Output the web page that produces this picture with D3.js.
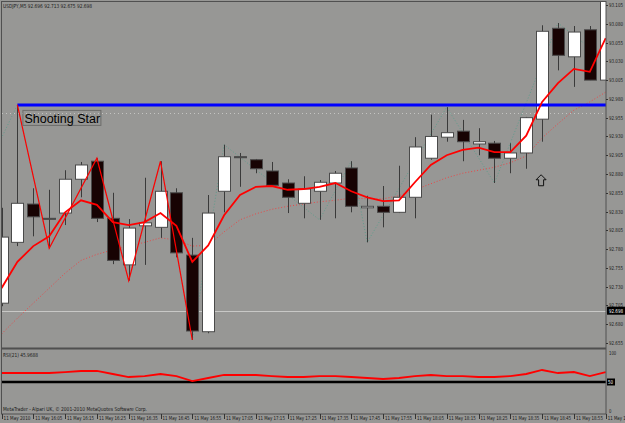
<!DOCTYPE html>
<html>
<head>
<meta charset="utf-8">
<script src="https://cdn.jsdelivr.net/npm/d3@7"></script>
<style>
  body { margin: 0; background: #979795; }
  svg { display: block; }
  text { font-family: "Liberation Sans Narrow", "DejaVu Sans Condensed", "Liberation Sans", sans-serif; }
</style>
</head>
<body>
<div id="chart"></div>
<script>
// USDJPY M5 candles, bar 0 = 15:55
const opens = [92.708, 92.789, 92.840, 92.821, 92.828, 92.873, 92.897, 92.821, 92.759, 92.811, 92.809, 92.855, 92.772, 92.670, 92.857, 92.903, 92.899, 92.884, 92.868, 92.841, 92.857, 92.868, 92.888, 92.835, 92.837, 92.829, 92.849, 92.901, 92.929, 92.937, 92.920, 92.921, 92.901, 92.908, 92.953, 93.074, 93.036, 93.072, 93.005];
const highs = [92.835, 92.972, 92.861, 92.859, 92.885, 92.896, 92.901, 92.855, 92.820, 92.875, 92.897, 92.861, 92.795, 92.852, 92.919, 92.908, 92.900, 92.896, 92.873, 92.877, 92.872, 92.884, 92.897, 92.851, 92.864, 92.891, 92.929, 92.959, 92.969, 92.952, 92.941, 92.924, 92.921, 92.956, 93.078, 93.081, 93.077, 93.077, 93.130];
const lows = [92.704, 92.784, 92.797, 92.781, 92.812, 92.849, 92.816, 92.760, 92.738, 92.759, 92.795, 92.769, 92.659, 92.668, 92.829, 92.863, 92.881, 92.863, 92.828, 92.821, 92.819, 92.821, 92.829, 92.789, 92.809, 92.828, 92.821, 92.899, 92.923, 92.897, 92.905, 92.868, 92.881, 92.887, 92.923, 93.018, 92.996, 93.005, 92.990];
const closes = [92.796, 92.841, 92.823, 92.820, 92.873, 92.892, 92.821, 92.765, 92.808, 92.815, 92.857, 92.775, 92.671, 92.828, 92.903, 92.902, 92.887, 92.865, 92.849, 92.860, 92.869, 92.881, 92.837, 92.837, 92.829, 92.849, 92.916, 92.930, 92.935, 92.923, 92.923, 92.901, 92.908, 92.955, 93.070, 93.038, 93.069, 93.005, 93.120];

const maFast = [92.728, 92.763, 92.784, 92.797, 92.829, 92.845, 92.839, 92.816, 92.812, 92.816, 92.828, 92.811, 92.763, 92.785, 92.825, 92.852, 92.863, 92.864, 92.859, 92.860, 92.863, 92.868, 92.857, 92.849, 92.844, 92.845, 92.869, 92.892, 92.905, 92.912, 92.915, 92.909, 92.909, 92.931, 92.976, 93.001, 93.020, 93.016, 93.061];
const maSlow = [92.667, 92.688, 92.708, 92.728, 92.748, 92.765, 92.773, 92.779, 92.784, 92.789, 92.795, 92.792, 92.784, 92.785, 92.803, 92.819, 92.827, 92.833, 92.837, 92.840, 92.843, 92.845, 92.848, 92.847, 92.847, 92.851, 92.859, 92.867, 92.875, 92.881, 92.885, 92.889, 92.895, 92.904, 92.928, 92.947, 92.965, 92.976, 92.989];
const rsi = [65.5, 65.5, 65.5, 65.5, 67.2, 69.0, 69.0, 63.8, 58.6, 60.3, 63.8, 60.3, 51.7, 56.9, 62.1, 62.1, 62.1, 60.3, 58.6, 58.6, 60.3, 60.3, 58.6, 56.9, 55.2, 56.9, 60.3, 62.1, 60.3, 60.3, 58.6, 58.6, 60.3, 63.8, 70.7, 65.5, 67.2, 60.3, 67.2];

const zigzagIdx = [1, 3, 6, 8, 10, 12];
const zigzagPrice = [92.972, 92.781, 92.901, 92.738, 92.897, 92.659];
const swingIdx = [-1, 1, 3, 6, 8, 10, 12, 14, 20, 22, 23, 28, 31, 35, 37];
const swingPrice = [92.884, 92.972, 92.781, 92.901, 92.738, 92.897, 92.659, 92.919, 92.819, 92.897, 92.789, 92.969, 92.868, 93.081, 93.048];

const starIdx = 1;
const starPrice = 92.972;
const arrowIdx = 34;
const arrowPrice = 92.879;
const bidPrice = 92.698;
const dottedLevel = 92.961;
const rsiLevel = 50;

const priceTicks = [93.105, 93.080, 93.055, 93.030, 93.005, 92.980, 92.955, 92.930, 92.905, 92.880, 92.855, 92.830, 92.805, 92.780, 92.755, 92.730, 92.705, 92.680, 92.655];
const rsiTicks = [100, 0];
const timeIdx = [0, 2, 4, 6, 8, 10, 12, 14, 16, 18, 20, 22, 24, 26, 28, 30, 32, 34, 36, 38];
const timeLabels = ["11 May 2010", "11 May 16:05", "11 May 16:15", "11 May 16:25", "11 May 16:35", "11 May 16:45", "11 May 16:55", "11 May 17:05", "11 May 17:15", "11 May 17:25", "11 May 17:35", "11 May 17:45", "11 May 17:55", "11 May 18:05", "11 May 18:15", "11 May 18:25", "11 May 18:35", "11 May 18:45", "11 May 18:55", "11 May 19:05"];

const width = 625;
const height = 423;
const plot = { left: 2, right: 606, top: 2, bottom: 348 };
const sub = { top: 350, bottom: 414 };

const bars = opens.map((o, i) => ({ i: i, o: o, h: highs[i], l: lows[i], c: closes[i] }));

const x = d3.scaleLinear().domain([0, 38]).range([1.5, 605.7]);
const y = d3.scaleLinear().domain([92.655, 93.105]).range([343, 5]);
const yR = d3.scaleLinear().domain([0, 100]).range([411, 353]);

const svg = d3.select("#chart")
    .append("svg")
    .attr("width", width)
    .attr("height", height)
    .attr("viewBox", [0, 0, width, height]);

const defs = svg.append("defs");
defs.append("clipPath").attr("id", "clip-main")
    .append("rect")
    .attr("x", plot.left).attr("y", plot.top)
    .attr("width", plot.right - plot.left).attr("height", plot.bottom - plot.top);
defs.append("clipPath").attr("id", "clip-sub")
    .append("rect")
    .attr("x", plot.left).attr("y", sub.top)
    .attr("width", plot.right - plot.left).attr("height", sub.bottom - sub.top);
defs.append("clipPath").attr("id", "clip-all")
    .append("rect")
    .attr("x", 0).attr("y", 0)
    .attr("width", width).attr("height", height);

const main = svg.append("g").attr("clip-path", "url(#clip-main)");

// dotted level and bid line
main.append("line")
    .attr("x1", plot.left).attr("x2", plot.right)
    .attr("y1", Math.round(y(dottedLevel)) + 0.5).attr("y2", Math.round(y(dottedLevel)) + 0.5)
    .attr("stroke", "#c4c4c2").attr("stroke-dasharray", "1,3");
main.append("line")
    .attr("x1", plot.left).attr("x2", plot.right)
    .attr("y1", Math.round(y(bidPrice)) + 0.5).attr("y2", Math.round(y(bidPrice)) + 0.5)
    .attr("stroke", "#c8c8c6");

// slow MA (dotted)
main.append("path")
    .datum(maSlow)
    .attr("d", d3.line().x((d, i) => x(i)).y((d) => y(d)))
    .attr("fill", "none")
    .attr("stroke", "#e84848")
    .attr("stroke-dasharray", "1,2");

// swing line (dotted teal)
main.append("path")
    .datum(swingIdx.map((d, k) => [d, swingPrice[k]]))
    .attr("d", d3.line().x((d) => x(d[0])).y((d) => y(d[1])))
    .attr("fill", "none")
    .attr("stroke", "#5f9c8c")
    .attr("stroke-dasharray", "1,2");

// candles
const candle = main.append("g")
    .selectAll("g")
    .data(bars)
    .join("g");

candle.append("line")
    .attr("x1", (d) => Math.round(x(d.i)) + 0.5)
    .attr("x2", (d) => Math.round(x(d.i)) + 0.5)
    .attr("y1", (d) => y(d.h))
    .attr("y2", (d) => y(d.l))
    .attr("stroke", "#3a3a3a");

candle.append("rect")
    .attr("x", (d) => Math.round(x(d.i)) - 5.5)
    .attr("y", (d) => y(Math.max(d.o, d.c)))
    .attr("width", 12)
    .attr("height", (d) => Math.max(1, y(Math.min(d.o, d.c)) - y(Math.max(d.o, d.c))))
    .attr("fill", (d) => d.c >= d.o ? "#ffffff" : "#170303")
    .attr("stroke", "#4a4a4a");

// blue shooting star line
main.append("line")
    .attr("x1", x(starIdx)).attr("x2", plot.right)
    .attr("y1", y(starPrice)).attr("y2", y(starPrice))
    .attr("stroke", "#0000ff")
    .attr("stroke-width", 3);

// zigzag (thin red)
main.append("path")
    .datum(zigzagIdx.map((d, k) => [d, zigzagPrice[k]]))
    .attr("d", d3.line().x((d) => x(d[0])).y((d) => y(d[1])))
    .attr("fill", "none")
    .attr("stroke", "#ff0000")
    .attr("stroke-width", 1.2);

// fast MA
main.append("path")
    .datum(maFast)
    .attr("d", d3.line().x((d, i) => x(i)).y((d) => y(d)))
    .attr("fill", "none")
    .attr("stroke", "#ff0000")
    .attr("stroke-width", 1.8);

// label
const lbl = main.append("g");
lbl.append("rect")
    .attr("x", x(starIdx) + 5.5).attr("y", y(starPrice) + 5.5)
    .attr("width", 78).attr("height", 15)
    .attr("fill", "none")
    .attr("stroke", "#6c6c6a");
lbl.append("text")
    .attr("x", x(starIdx) + 7).attr("y", y(starPrice) + 18)
    .attr("font-size", "12.5px")
    .style("font-family", "'Liberation Sans', Arial, sans-serif")
    .attr("fill", "#000")
    .text("Shooting Star");

// up arrow
const ax = x(arrowIdx) - 1;
const ay = y(arrowPrice);
main.append("path")
    .attr("d", `M${ax},${ay} L${ax + 5},${ay + 5} L${ax + 2.5},${ay + 5} L${ax + 2.5},${ay + 11} L${ax - 2.5},${ay + 11} L${ax - 2.5},${ay + 5} L${ax - 5},${ay + 5} Z`)
    .attr("fill", "#979795")
    .attr("stroke", "#111")
    .attr("stroke-width", 1);

// RSI panel
const subG = svg.append("g").attr("clip-path", "url(#clip-sub)");
subG.append("line")
    .attr("x1", plot.left).attr("x2", plot.right)
    .attr("y1", yR(rsiLevel)).attr("y2", yR(rsiLevel))
    .attr("stroke", "#000")
    .attr("stroke-width", 2.5);
subG.append("path")
    .datum(rsi)
    .attr("d", d3.line().x((d, i) => x(i)).y((d) => yR(d)))
    .attr("fill", "none")
    .attr("stroke", "#ff0000")
    .attr("stroke-width", 1.8);

// frames
svg.append("rect")
    .attr("x", 1.5).attr("y", 1.5)
    .attr("width", plot.right - 1.5).attr("height", sub.bottom - 1.5)
    .attr("fill", "none")
    .attr("stroke", "#505050");
svg.append("line")
    .attr("x1", plot.left).attr("x2", plot.right)
    .attr("y1", 348.5).attr("y2", 348.5)
    .attr("stroke", "#4f4f4f")
    .attr("stroke-width", 2);

// small text helper: MetaTrader's narrow pixel font
const small = "5.5px";
function smallText(g, w) {
    return g.attr("font-size", small)
        .attr("fill", "#1a1a1a")
        .attr("textLength", w)
        .attr("lengthAdjust", "spacingAndGlyphs");
}

// price axis
svg.append("g")
    .selectAll("text")
    .data(priceTicks)
    .join("text")
    .attr("x", 609)
    .attr("y", (d) => y(d) + 2)
    .call(smallText, 14)
    .text((d) => d.toFixed(3));
svg.append("g")
    .selectAll("line")
    .data(priceTicks)
    .join("line")
    .attr("x1", plot.right).attr("x2", plot.right + 2)
    .attr("y1", (d) => Math.round(y(d)) + 0.5).attr("y2", (d) => Math.round(y(d)) + 0.5)
    .attr("stroke", "#333");

const bidBox = svg.append("g");
bidBox.append("rect")
    .attr("x", plot.right + 1).attr("y", y(bidPrice) - 4)
    .attr("width", 18).attr("height", 8)
    .attr("fill", "#000");
bidBox.append("text")
    .attr("x", 609).attr("y", y(bidPrice) + 2)
    .call(smallText, 14)
    .attr("fill", "#fff")
    .text(bidPrice.toFixed(3));

// rsi axis
svg.append("g")
    .selectAll("text")
    .data(rsiTicks)
    .join("text")
    .attr("x", 609)
    .attr("y", (d) => yR(d) + 2)
    .call(smallText, (d) => String(d).length * 2.4)
    .text((d) => d);
svg.append("rect")
    .attr("x", plot.right + 1).attr("y", yR(rsiLevel) - 3.5)
    .attr("width", 8).attr("height", 7)
    .attr("fill", "#000");
svg.append("text")
    .attr("x", 608).attr("y", yR(rsiLevel) + 2)
    .call(smallText, 5)
    .attr("fill", "#fff")
    .text(rsiLevel);

// time axis
const tAxis = svg.append("g");
tAxis.selectAll("line")
    .data(timeIdx)
    .join("line")
    .attr("x1", (d) => Math.round(x(d)) + 0.5).attr("x2", (d) => Math.round(x(d)) + 0.5)
    .attr("y1", sub.bottom).attr("y2", sub.bottom + 5)
    .attr("stroke", "#333");
tAxis.selectAll("text")
    .data(timeIdx)
    .join("text")
    .attr("x", (d) => x(d) + 2)
    .attr("y", 420)
    .call(smallText, 27)
    .text((d, k) => timeLabels[k]);

// captions
svg.append("text")
    .attr("x", 3).attr("y", 7.5)
    .call(smallText, 89)
    .text("USDJPY,M5  92.696 92.713 92.675 92.698");
svg.append("text")
    .attr("x", 3).attr("y", 356.5)
    .call(smallText, 35)
    .text("RSI(21) 45.9688");
svg.append("text")
    .attr("x", 3).attr("y", 411)
    .call(smallText, 144)
    .text("MetaTrader - Alpari UK, \u00a9 2001-2010 MetaQuotes Software Corp.");
</script>
</body>
</html>
